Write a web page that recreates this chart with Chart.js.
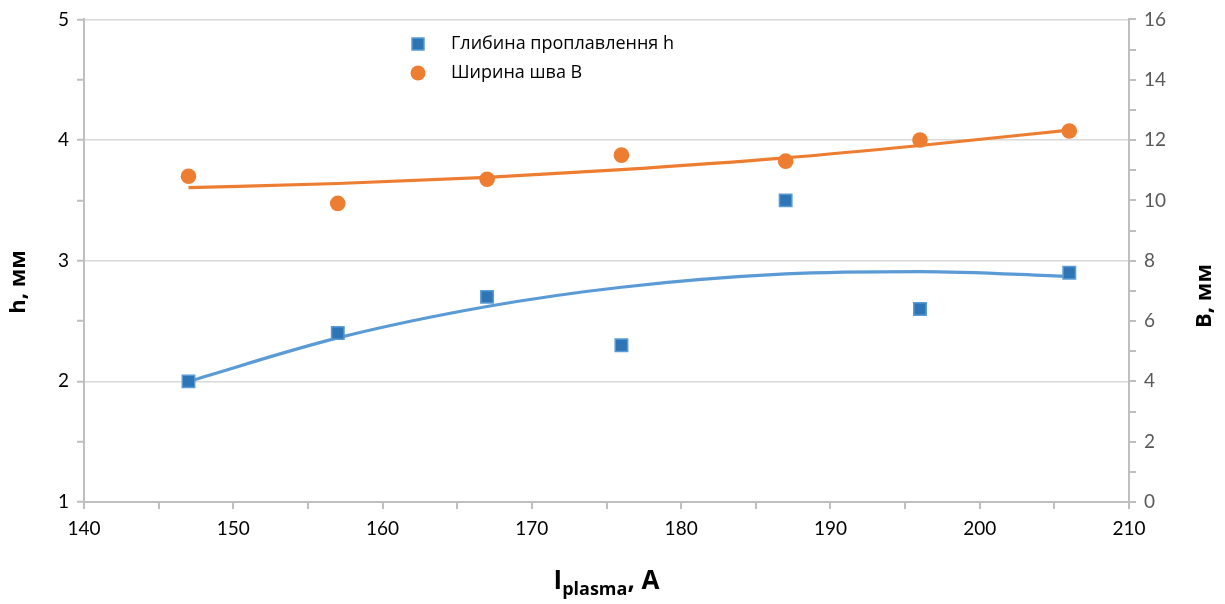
<!DOCTYPE html>
<html>
<head>
<meta charset="utf-8">
<script src="https://cdn.jsdelivr.net/npm/chart.js@4/dist/chart.umd.min.js"></script>
<style>
  html, body { margin: 0; padding: 0; background: #fff; }
  #wrap { width: 1225px; height: 604px; position: relative; }
</style>
</head>
<body>
<div id="wrap"><canvas id="chart"></canvas></div>
<script>
// plasma current, A
const currents = [147, 157, 167, 176, 187, 196, 206];
// penetration depth h, mm (left axis)
const depthValues = [2.0, 2.4, 2.7, 2.3, 3.5, 2.6, 2.9];
// weld width B, mm (right axis)
const widthValues = [10.8, 9.9, 10.7, 11.5, 11.3, 12.0, 12.3];
// trend lines
const depthTrend = [2.0, 2.36, 2.62, 2.78, 2.89, 2.91, 2.87];
const widthTrend = [10.42, 10.56, 10.76, 11.02, 11.41, 11.82, 12.33];

const depthLabel = 'Глибина проплавлення h';
const widthLabel = 'Ширина шва B';

const FONT = "Lato, 'Open Sans', sans-serif";
const TITLE_FONT = "'Open Sans', sans-serif";
const blue = '#2E75B6';
const blueLight = '#5B9BD5';
const orange = '#ED7D31';
const axisGray = '#BFBFBF';

const toPoints = (xs, ys) => xs.map((x, i) => ({ x: x, y: ys[i] }));

const titlesAndLegend = {
  id: 'titlesAndLegend',
  afterDraw(chart) {
    const ctx = chart.ctx;
    const area = chart.chartArea;
    ctx.save();
    ctx.fillStyle = '#000';
    ctx.textBaseline = 'middle';

    // left axis title
    ctx.save();
    ctx.translate(19, 282);
    ctx.rotate(-Math.PI / 2);
    ctx.textAlign = 'center';
    ctx.font = 'bold 22px ' + TITLE_FONT;
    ctx.fillText('h, мм', 0, 0);
    ctx.restore();

    // right axis title
    ctx.save();
    ctx.translate(1205, 296);
    ctx.rotate(-Math.PI / 2);
    ctx.textAlign = 'center';
    ctx.font = 'bold 22px ' + TITLE_FONT;
    ctx.fillText('B, мм', 0, 0);
    ctx.restore();

    // x axis title with subscript
    const big = 'bold 26px ' + TITLE_FONT;
    const small = 'bold 18px ' + TITLE_FONT;
    ctx.font = big;
    const wI = ctx.measureText('I').width;
    const wRest = ctx.measureText(', A').width;
    ctx.font = small;
    const wSub = ctx.measureText('plasma').width;
    const total = wI + wSub + wRest;
    let x = (area.left + area.right) / 2 - total / 2;
    const y = 580;
    ctx.textAlign = 'left';
    ctx.textBaseline = 'alphabetic';
    ctx.font = big;
    ctx.fillText('I', x, y + 9);
    x += wI;
    ctx.font = small;
    ctx.fillText('plasma', x, y + 15);
    x += wSub;
    ctx.font = big;
    ctx.fillText(', A', x, y + 9);

    // legend inside the plot area
    ctx.textBaseline = 'middle';
    ctx.font = '18px ' + TITLE_FONT;
    ctx.fillStyle = blue;
    ctx.fillRect(412, 38, 12, 12);
    ctx.strokeStyle = blueLight;
    ctx.lineWidth = 1.5;
    ctx.strokeRect(412, 38, 12, 12);
    ctx.fillStyle = '#000';
    ctx.fillText(depthLabel, 451, 44);
    ctx.fillStyle = orange;
    ctx.beginPath();
    ctx.arc(418, 73, 7.5, 0, Math.PI * 2);
    ctx.fill();
    ctx.fillStyle = '#000';
    ctx.fillText(widthLabel, 451, 73);
    ctx.restore();
  }
};

new Chart(document.getElementById('chart'), {
  type: 'scatter',
  data: {
    datasets: [
      {
        label: depthLabel + ' trend',
        type: 'line',
        data: toPoints(currents, depthTrend),
        yAxisID: 'y',
        borderColor: blueLight,
        borderWidth: 3.2,
        pointRadius: 0,
        cubicInterpolationMode: 'monotone',
        fill: false,
        order: 2
      },
      {
        label: widthLabel + ' trend',
        type: 'line',
        data: toPoints(currents, widthTrend),
        yAxisID: 'y1',
        borderColor: orange,
        borderWidth: 3.2,
        pointRadius: 0,
        cubicInterpolationMode: 'monotone',
        fill: false,
        order: 2
      },
      {
        label: depthLabel,
        data: toPoints(currents, depthValues),
        yAxisID: 'y',
        pointStyle: 'rect',
        pointRadius: 8.8,
        backgroundColor: blue,
        borderColor: blueLight,
        borderWidth: 1.5,
        order: 1
      },
      {
        label: widthLabel,
        data: toPoints(currents, widthValues),
        yAxisID: 'y1',
        pointStyle: 'circle',
        pointRadius: 7.8,
        backgroundColor: orange,
        borderColor: orange,
        borderWidth: 0,
        order: 1
      }
    ]
  },
  options: {
    responsive: true,
    maintainAspectRatio: false,
    animation: false,
    layout: { padding: { top: 18, left: 0, right: 0, bottom: 0 } },
    plugins: {
      legend: { display: false },
      tooltip: { enabled: false }
    },
    scales: {
      x: {
        type: 'linear',
        min: 140,
        max: 210,
        afterFit(scale) { scale.height = 102; },
        border: { color: axisGray, width: 2 },
        grid: {
          drawOnChartArea: false,
          drawTicks: true,
          tickLength: 7,
          tickColor: axisGray,
          lineWidth: 2
        },
        ticks: {
          stepSize: 5,
          autoSkip: false,
          maxRotation: 0,
          color: '#000',
          padding: 8,
          font: { family: FONT, size: 19 },
          callback: (v) => (v % 10 === 0 ? v : '')
        }
      },
      y: {
        type: 'linear',
        position: 'left',
        min: 1,
        max: 5,
        afterFit(scale) { scale.width = 84; },
        border: { color: axisGray, width: 2 },
        grid: {
          color: (c) => (c.tick && Number.isInteger(c.tick.value) ? '#D9D9D9' : 'rgba(0,0,0,0)'),
          lineWidth: 1.5,
          drawTicks: true,
          tickLength: 7,
          tickColor: axisGray,
          tickWidth: 2
        },
        ticks: {
          stepSize: 0.5,
          autoSkip: false,
          color: '#000',
          padding: 8,
          font: { family: FONT, size: 19 },
          callback: (v) => (Number.isInteger(v) ? v : '')
        }
      },
      y1: {
        type: 'linear',
        position: 'right',
        min: 0,
        max: 16,
        afterFit(scale) { scale.width = 96; },
        border: { color: axisGray, width: 2 },
        grid: {
          drawOnChartArea: false,
          drawTicks: true,
          tickLength: 7,
          tickColor: axisGray,
          lineWidth: 2
        },
        ticks: {
          stepSize: 1,
          autoSkip: false,
          color: '#595959',
          padding: 8,
          font: { family: FONT, size: 19 },
          callback: (v) => (v % 2 === 0 ? v : '')
        }
      }
    }
  },
  plugins: [titlesAndLegend]
});
</script>
</body>
</html>
